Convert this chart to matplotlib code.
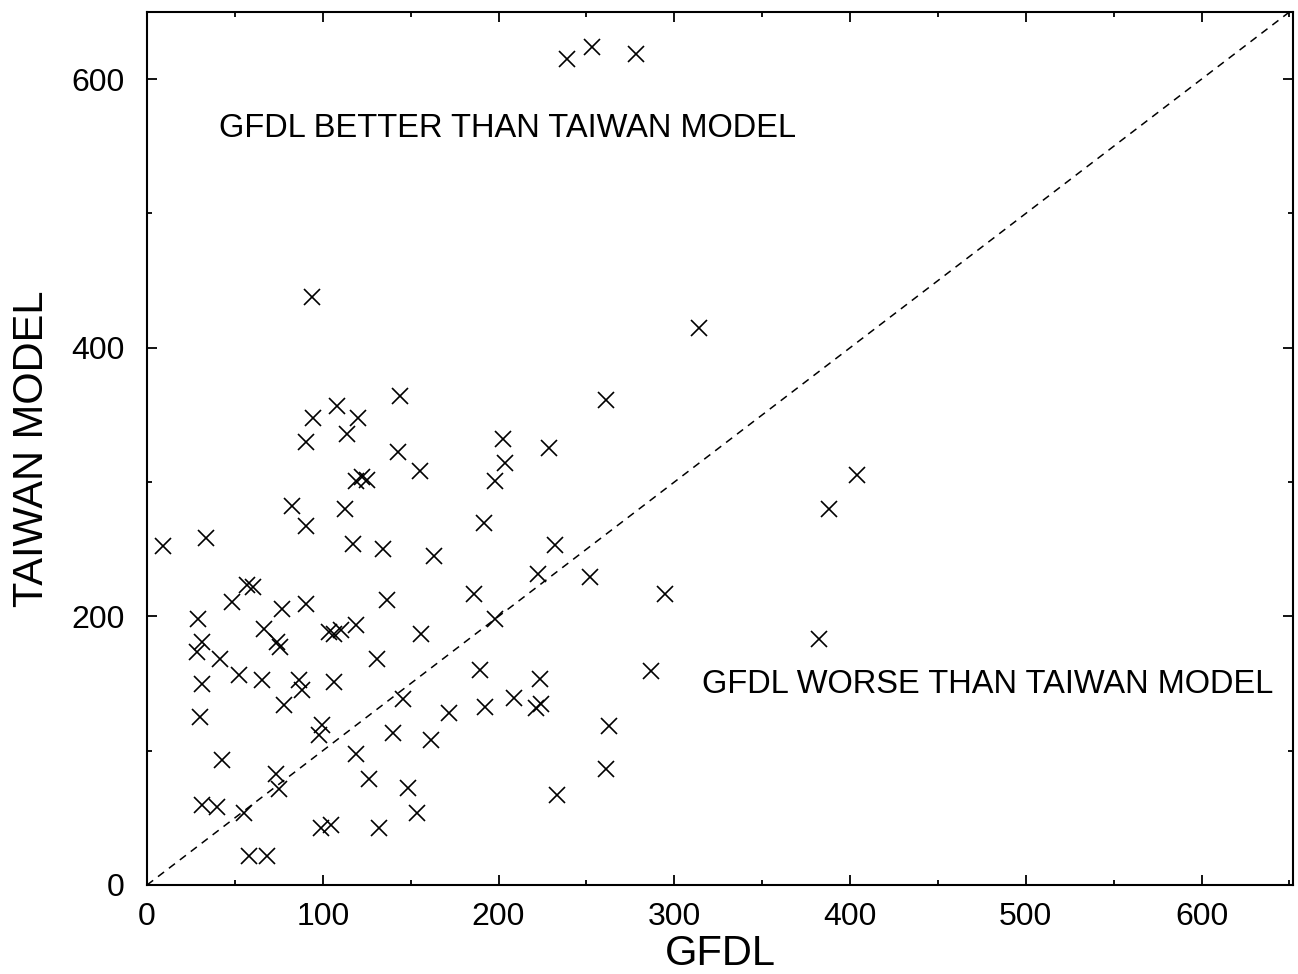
import numpy as np
import matplotlib
matplotlib.use("Agg")
import matplotlib.pyplot as plt
from matplotlib.ticker import MultipleLocator

plt.rcParams['font.family'] = ['Liberation Sans', 'DejaVu Sans']

# track errors: GFDL (x) vs TAIWAN MODEL (y)
gfdl = [239, 253, 278, 93.6, 314, 144, 261, 108, 94.6, 120,
        114, 90.2, 202.4, 228.7, 142.5, 203.4, 155.4, 197.7, 404, 118.7,
        122.5, 125.4, 388, 82.6, 112.4, 90.2, 192, 9, 33.7, 117.2,
        134, 163.4, 232, 56.9, 60.3, 48.3, 76.9, 90.2, 136.4, 185.9,
        28.9, 251.9, 222.4, 294.7, 198, 66.4, 74, 75.9, 103.5, 106.3,
        110.2, 118.7, 155.8, 31.2, 28.4, 41.7, 131.1, 52.1, 65.5, 86.4,
        88.3, 106.3, 31.2, 189.5, 77.8, 145.4, 192.5, 30.3, 172, 99.7,
        97.8, 139.7, 161.5, 118.7, 42.6, 73.1, 74.9, 126, 148.5, 31.2,
        39.8, 55, 153.5, 98.7, 104.5, 132, 57.8, 68.3, 223.3, 286.7,
        208.7, 221.1, 224.3, 262.9, 261.4, 233.4, 382.5]
taiwan = [615, 624, 619, 438, 415, 364, 361, 357, 348, 348,
          336, 330, 332, 325, 322.5, 314, 308.5, 300.5, 305.6, 301,
          303.6, 301.6, 280, 282, 280, 267, 269.4, 252.3, 258.2, 254,
          250.3, 244.8, 252.8, 223, 221.8, 210.6, 205.7, 209.4, 211.9, 216.5,
          198, 229.2, 231.2, 216.8, 198.2, 190.8, 181, 177.2, 188.3, 187,
          189.6, 193.3, 187, 181, 173.5, 168.5, 168.5, 156, 152.9, 152.4,
          145, 151.2, 149.9, 160, 133.8, 138.8, 132.5, 125.1, 127.8, 119,
          111.5, 113.5, 107.8, 97.4, 93.4, 83, 71.8, 78.6, 72, 59.5,
          57.8, 53.3, 53.5, 42.6, 44.6, 42.6, 21.6, 21.6, 153.6, 159.3,
          139.5, 132, 134.6, 118.4, 86.7, 66.9, 183.5]

x_max = 652
y_max = 650

fig = plt.figure(figsize=(12.98, 9.74), dpi=100)
ax = fig.add_axes([0.1133, 0.0914, 0.8828, 0.8963])

# one-to-one reference line
ax.plot([0, y_max], [0, y_max], color='black', lw=1.1,
        linestyle=(0, (5, 4)))
ax.plot(gfdl, taiwan, linestyle='none', marker='x', color='black',
        markersize=12, markeredgewidth=1.2)

ax.set_xlim(0, x_max)
ax.set_ylim(0, y_max)
ax.xaxis.set_major_locator(MultipleLocator(100))
ax.xaxis.set_minor_locator(MultipleLocator(50))
ax.yaxis.set_major_locator(MultipleLocator(200))
ax.yaxis.set_minor_locator(MultipleLocator(100))
ax.tick_params(which='both', direction='in', top=True, right=True,
               width=1.3, labelsize=23)
ax.tick_params(which='major', length=7)
ax.tick_params(which='minor', length=3.5)
ax.tick_params(axis='x', pad=12)
ax.tick_params(axis='y', pad=16)
for s in ax.spines.values():
    s.set_linewidth(1.5)

ax.set_xlabel('GFDL', fontsize=30, labelpad=2)
ax.set_ylabel('TAIWAN MODEL', fontsize=30, labelpad=14)

ax.text(41, 563, 'GFDL BETTER THAN TAIWAN MODEL', fontsize=23.5,
        va='center', ha='left')
ax.text(315.5, 149, 'GFDL WORSE THAN TAIWAN MODEL', fontsize=23.5,
        va='center', ha='left')

fig.savefig('out.png', dpi=100)
